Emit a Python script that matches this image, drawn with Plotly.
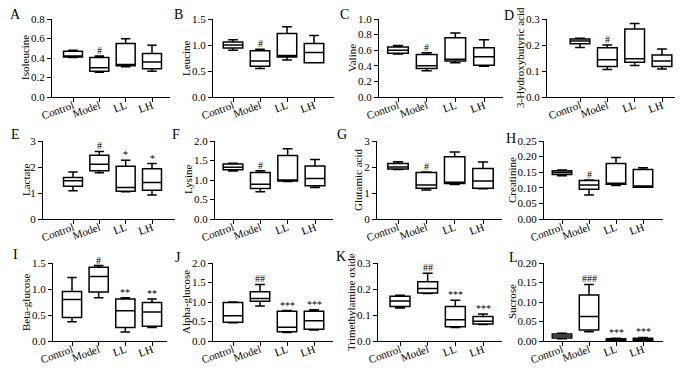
import plotly.graph_objects as go

groups = ["Control", "Model", "LL", "LH"]

# ---- data: box statistics per metabolite (lower whisker, q1, median, q3, upper whisker) ----
isoleucine = dict(lower=[0.405, 0.255, 0.31, 0.265], q1=[0.41, 0.265, 0.32, 0.29],
                  median=[0.42, 0.30, 0.333, 0.36], q3=[0.47, 0.405, 0.55, 0.446],
                  upper=[0.48, 0.42, 0.597, 0.53])
leucine = dict(lower=[0.90, 0.55, 0.71, 0.66], q1=[0.94, 0.59, 0.77, 0.66],
               median=[1.00, 0.69, 0.80, 0.856], q3=[1.06, 0.89, 1.22, 1.03],
               upper=[1.10, 0.92, 1.35, 1.185])
valine = dict(lower=[0.55, 0.335, 0.44, 0.395], q1=[0.56, 0.365, 0.46, 0.408],
              median=[0.60, 0.40, 0.485, 0.515], q3=[0.64, 0.545, 0.76, 0.63],
              upper=[0.66, 0.566, 0.82, 0.734])
hydroxybutyric = dict(lower=[0.19, 0.106, 0.121, 0.108], q1=[0.205, 0.1175, 0.134, 0.1175],
                      median=[0.215, 0.143, 0.147, 0.138], q3=[0.2235, 0.189, 0.262, 0.162],
                      upper=[0.226, 0.20, 0.283, 0.185])
lactate = dict(lower=[1.085, 1.78, 1.05, 0.92], q1=[1.26, 1.86, 1.07, 1.11],
               median=[1.47, 2.11, 1.21, 1.40], q3=[1.60, 2.45, 2.03, 1.93],
               upper=[1.81, 2.60, 2.26, 2.13])
lysine = dict(lower=[1.23, 0.70, 0.96, 0.805], q1=[1.26, 0.78, 0.975, 0.855],
              median=[1.33, 0.89, 1.00, 1.04], q3=[1.41, 1.19, 1.63, 1.36],
              upper=[1.43, 1.24, 1.80, 1.525])
glutamic = dict(lower=[1.90, 1.12, 1.33, 1.16], q1=[1.92, 1.18, 1.37, 1.18],
                median=[2.00, 1.31, 1.41, 1.46], q3=[2.13, 1.79, 2.39, 1.94],
                upper=[2.20, 1.81, 2.58, 2.19])
creatinine = dict(lower=[0.139, 0.077, 0.107, 0.102], q1=[0.143, 0.095, 0.111, 0.102],
                  median=[0.149, 0.109, 0.114, 0.106], q3=[0.155, 0.123, 0.178, 0.159],
                  upper=[0.157, 0.125, 0.197, 0.164])
beta_glucose = dict(lower=[0.37, 0.83, 0.175, 0.26], q1=[0.45, 0.94, 0.26, 0.285],
                    median=[0.80, 1.24, 0.58, 0.56], q3=[0.95, 1.42, 0.81, 0.74],
                    upper=[1.22, 1.45, 0.83, 0.81])
alpha_glucose = dict(lower=[0.47, 0.90, 0.22, 0.28], q1=[0.48, 1.02, 0.24, 0.30],
                     median=[0.65, 1.09, 0.35, 0.52], q3=[0.985, 1.26, 0.76, 0.765],
                     upper=[1.00, 1.45, 0.78, 0.80])
tmao = dict(lower=[0.127, 0.183, 0.052, 0.063], q1=[0.133, 0.185, 0.055, 0.065],
            median=[0.154, 0.202, 0.082, 0.076], q3=[0.172, 0.228, 0.133, 0.094],
            upper=[0.176, 0.261, 0.157, 0.104])
sucrose = dict(lower=[0.006, 0.024, 0.0005, 0.001], q1=[0.008, 0.028, 0.001, 0.002],
               median=[0.013, 0.063, 0.003, 0.005], q3=[0.018, 0.118, 0.006, 0.007],
               upper=[0.020, 0.145, 0.007, 0.009])

panel_data = [isoleucine, leucine, valine, hydroxybutyric, lactate, lysine,
              glutamic, creatinine, beta_glucose, alpha_glucose, tmao, sucrose]
panel_names = ["Isoleucine", "Leucine", "Valine", "3-Hydroxybutyric acid",
               "Lactate", "Lysine", "Glutamic acid", "Creatinine",
               "Beta-glucose", "Alpha-glucose", "Trimethylamine oxide", "Sucrose"]
panel_letters = list("ABCDEFGHIJKL")
panel_marks = [["", "#", "", ""], ["", "#", "", ""], ["", "#", "", ""], ["", "#", "", ""],
               ["", "#", "*", "*"], ["", "#", "", ""], ["", "#", "", ""], ["", "#", "", ""],
               ["", "#", "**", "**"], ["", "##", "***", "***"], ["", "##", "***", "***"],
               ["", "###", "***", "***"]]
y_max = [0.8, 1.5, 1.0, 0.3, 3, 2.0, 3, 0.25, 1.5, 2.0, 0.3, 0.20]
y_dtick = [0.2, 0.5, 0.2, 0.1, 1, 0.5, 1, 0.05, 0.5, 0.5, 0.1, 0.05]
y_fmt = [".1f", ".1f", ".1f", ".1f", "d", ".1f", "d", ".2f", ".1f", ".1f", ".1f", ".2f"]

# ---- layout geometry (page pixels) ----
W, H = 683, 370
OFF = 8  # page body margin in the browser
# axis start x, Control tick x, LH tick x, axis end x
geom_x = [(52, 73, 152, 170), (213, 233, 314, 334), (379, 398, 484, 503), (547, 580, 662, 677),
          (43, 73, 152, 175), (215, 233, 315, 333), (377, 398, 483, 502), (544, 562, 643, 663),
          (53, 72, 152, 167), (213, 233, 314, 333), (378, 400, 483, 502), (544, 562, 643, 663)]
rows_y = [(19, 97), (141, 219), (263, 341)]
letter_pos = [(15, 14), (178, 14), (344, 14), (509, 15), (15, 134), (176, 134), (342, 134),
              (511, 139), (15, 255), (178, 257), (341, 256), (513, 257)]
title_x = [25, 186, 352, 520, 26, 188, 358, 512, 26, 186, 351, 512]


def px(x):
    return (x - OFF) / W


def py(y):
    return 1 - (y - OFF) / H


FONT = "Liberation Serif"
fig = go.Figure()
annotations = []

for i in range(12):
    d = panel_data[i]
    ax_n = "" if i == 0 else str(i + 1)
    xa, ctrl, lh, xe = geom_x[i]
    top, bot = rows_y[i // 4]
    sp = (lh - ctrl) / 3.0
    r0 = -(ctrl - xa) / sp
    r1 = 3 + (xe - lh) / sp

    fig.add_trace(go.Box(
        x=groups, q1=d["q1"], median=d["median"], q3=d["q3"],
        lowerfence=d["lower"], upperfence=d["upper"],
        boxpoints=False, fillcolor="white",
        line=dict(color="black", width=1.5), width=0.72, whiskerwidth=0.5,
        xaxis="x" + ax_n, yaxis="y" + ax_n, showlegend=False,
    ))

    fig.layout["xaxis" + ax_n] = dict(
        domain=[px(xa), px(xe)], range=[r0, r1], type="category",
        categoryorder="array", categoryarray=groups, automargin=False,
        anchor="y" + ax_n, showline=True, linecolor="black", linewidth=1.2,
        ticks="outside", ticklen=4, tickcolor="black", tickwidth=1.2,
        tickangle=-20, ticklabelstandoff=-7, showgrid=False, zeroline=False,
        tickfont=dict(family=FONT, size=11, color="black"),
    )
    fig.layout["yaxis" + ax_n] = dict(
        domain=[py(bot), py(top)], range=[0, y_max[i]], automargin=False,
        anchor="x" + ax_n, showline=True, linecolor="black", linewidth=1.2,
        ticks="outside", ticklen=4, tickcolor="black", tickwidth=1.2,
        dtick=y_dtick[i], tick0=0, tickformat=y_fmt[i], showgrid=False, zeroline=False,
        tickfont=dict(family=FONT, size=11, color="black"),
    )

    # y-axis title as rotated text
    annotations.append(dict(
        x=px(title_x[i]), y=py((top + bot) / 2), xref="paper", yref="paper",
        text=panel_names[i], textangle=-90, showarrow=False,
        xanchor="center", yanchor="middle",
        font=dict(family=FONT, size=11, color="black"),
    ))

    for g, mark, up in zip(groups, panel_marks[i], d["upper"]):
        if mark:
            annotations.append(dict(
                x=g, y=up, xref="x" + ax_n, yref="y" + ax_n, text=mark,
                showarrow=False, yanchor="bottom", yshift=-2,
                font=dict(family=FONT, size=10, color="black"),
            ))

    lx, ly = letter_pos[i]
    annotations.append(dict(
        x=px(lx), y=py(ly), xref="paper", yref="paper", text=panel_letters[i],
        showarrow=False, xanchor="center", yanchor="middle",
        font=dict(family=FONT, size=14, color="black"),
    ))

fig.update_layout(
    width=W, height=H, margin=dict(l=0, r=0, t=0, b=0, autoexpand=False),
    paper_bgcolor="white", plot_bgcolor="white",
    annotations=annotations, font=dict(family=FONT, color="black"),
)

fig.write_html("out.html")
